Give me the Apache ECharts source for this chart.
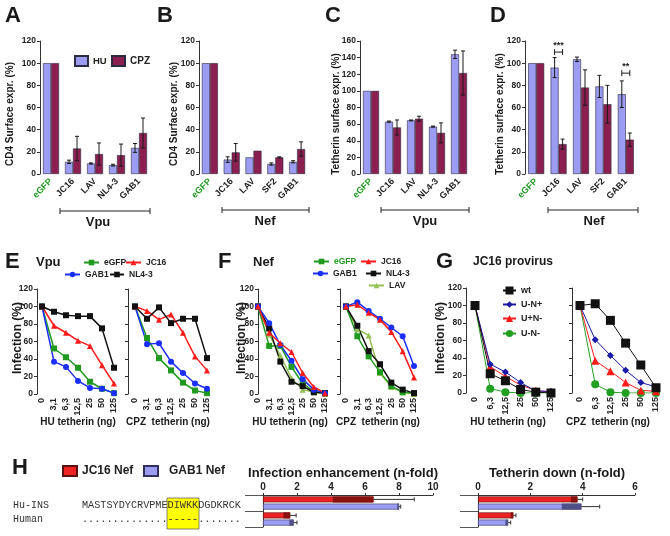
<!DOCTYPE html>
<html><head><meta charset="utf-8">
<script src="https://cdn.jsdelivr.net/npm/echarts@6/dist/echarts.min.js"></script>
<style>html,body{margin:0;padding:0;background:#fff}#c{width:670px;height:536px}</style>
</head><body><div id="c"></div>
<script>
// ---------- DATA ----------
const catsA = ['eGFP','JC16','LAV','NL4-3','GAB1'];
const catsB = ['eGFP','JC16','LAV','SF2','GAB1'];
const catsC = ['eGFP','JC16','LAV','NL4-3','GAB1'];
const catsD = ['eGFP','JC16','LAV','SF2','GAB1'];
const huA = [100,11,9.5,8,23.5],   huAerr = [0,1.5,0.5,0.8,4];
const cpzA = [100,23,18,17,37],    cpzAerr = [0,11,10,10,13.5];
const huB = [100,13,15,9,11],      huBerr = [0,2.5,0,1,1];
const cpzB = [100,19.5,21,15,22.5],cpzBerr = [0,8,0,0.5,6.5];
const huC = [100,63,64.5,57,144],  huCerr = [0,0.7,0.5,0.7,5];
const cpzC = [100,56,66.5,49.5,121.5], cpzCerr = [0,9,3,12,26.5];
const huD = [100,96,103.5,79,72],  huDerr = [0,9,2,10,12];
const cpzD = [100,27,78,63,31],    cpzDerr = [0,4.5,16,17,6];
const sigCats = [1,4], sigVals = [110,91], sigLabels = ['***','**'];

const doseEF = ['0','3,1','6,3','12,5','25','50','125'];
const doseG = ['0','6,3','12,5','25','50','125'];
// E (Vpu)
const E_hu_eGFP = [100,52,42,30,14,6,1];
const E_hu_JC16 = [100,78,70,61,55,33,12];
const E_hu_GAB1 = [100,37,31,15,7,6,1];
const E_hu_NL43 = [100,94,90,89,89,75,30];
const E_cpz_eGFP = [100,64,41,27,13,4,1];
const E_cpz_JC16 = [100,95,85,91,70,43,27];
const E_cpz_GAB1 = [100,57,58,37,24,12,6];
const E_cpz_NL43 = [100,86,99,81,86,86,41];
// F (Nef)
const F_hu_eGFP = [100,55,55,31,12,3,1];
const F_hu_JC16 = [100,70,58,48,24,8,1];
const F_hu_GAB1 = [100,81,56,38,17,5,1];
const F_hu_NL43 = [100,75,37,14,9,2,1];
const F_hu_LAV  = [100,68,44,18,5,2,0];
const F_cpz_eGFP = [100,66,43,25,9,2,1];
const F_cpz_JC16 = [100,102,93,85,71,49,19];
const F_cpz_GAB1 = [100,105,95,86,76,66,32];
const F_cpz_NL43 = [100,78,49,34,13,5,1];
const F_cpz_LAV  = [100,74,67,24,8,2,0];
// G (JC16 provirus)
const G_hu_wt  = [100,22,14,4,1,0];
const G_hu_UmNp = [100,33,24,12,2,2];
const G_hu_UpNm = [100,30,19,9,3,1];
const G_hu_UmNm = [100,5,1,0,0,0];
const G_cpz_wt  = [100,102,83,57,32,6];
const G_cpz_UmNp = [100,61,43,26,12,7];
const G_cpz_UpNm = [100,37,25,12,3,2];
const G_cpz_UmNm = [100,10,1,0,0,0];
// H
const hCats = ['Hu-INS','Human'];
const infJC = [6.5,1.6],  infJClow = [4.1,1.2],  infJChigh = [8.9,1.95];
const infGAB = [8.0,1.8], infGABlow = [7.9,1.55], infGABhigh = [8.1,2.0];
const tdJC = [3.8,1.35],  tdJClow = [3.55,1.25], tdJChigh = [4.0,1.45];
const tdGAB = [3.95,1.15],tdGABlow = [3.2,1.05], tdGABhigh = [4.65,1.25];
const seqHu = 'MASTSYDYCRVPMEDIWKKDGDKRCK';
const seqHuman = '..............-----.......';

// ---------- STYLE ----------
const FF = 'Liberation Sans, Arial, sans-serif';
const GREEN = '#1f9a1f', RED = '#ff1a1a', BLUE = '#1a2fff', BLACK = '#111111', LAVC = '#94c055';
const HUC = '#9c9cf2', CPZC = '#8b1f4f';

const grids = [
  {left:40, top:41, width:110, height:133},
  {left:199, top:41, width:109, height:133},
  {left:360, top:41, width:110, height:133},
  {left:525, top:41, width:112, height:133},
  {left:42, top:289, width:72, height:105},
  {left:135, top:289, width:72, height:105},
  {left:258, top:289, width:67, height:105},
  {left:346, top:289, width:68, height:105},
  {left:475, top:288, width:76, height:105},
  {left:580, top:288, width:76, height:105},
  {left:263, top:495, width:170, height:32},
  {left:478, top:495, width:157, height:32}
];

const lblStyle = {fontSize:8.5, fontWeight:'bold', color:'#222', fontFamily:FF};
function barX(gi, cats){
  return {type:'category', gridIndex:gi,
    data: cats.map(c => c==='eGFP' ? {value:c, textStyle:{color:GREEN}} : c),
    axisLine:{show:false}, axisTick:{show:false},
    axisLabel:Object.assign({}, lblStyle, {rotate:45, margin:6, interval:0, fontSize:9})};
}
function valY(gi, max, showLabel, offset){
  return {type:'value', gridIndex:gi, min:0, max:max, interval:20, offset:offset||0,
    axisLine:{show:true, lineStyle:{color:'#333', width:1}},
    axisTick:{show:true, length:3, lineStyle:{color:'#333'}},
    axisLabel:Object.assign({show:showLabel, margin:4}, lblStyle),
    splitLine:{show:false}};
}
function doseX(gi, data){
  return {type:'category', gridIndex:gi, boundaryGap:false, data:data,
    axisLine:{show:false}, axisTick:{show:false},
    axisLabel:Object.assign({}, lblStyle, {rotate:90, margin:4, interval:0, fontSize:9})};
}
function hX(gi, max){
  return {type:'value', gridIndex:gi, position:'top', min:0, max:max, interval:2,
    axisLine:{show:true, lineStyle:{color:'#333'}},
    axisTick:{show:true, length:2, lineStyle:{color:'#333'}},
    axisLabel:Object.assign({margin:3}, lblStyle, {fontSize:10}),
    splitLine:{show:false}};
}
function hY(gi){
  return {type:'category', gridIndex:gi, inverse:true, data:hCats,
    axisLine:{show:true, lineStyle:{color:'#333'}},
    axisTick:{show:true, length:18, lineStyle:{color:'#555'}},
    axisLabel:{show:false}};
}

function bar(name, gi, data, color){
  return {type:'bar', name:name, xAxisIndex:gi, yAxisIndex:gi, data:data, barWidth:8, barGap:'0%',
    itemStyle:{color:color, borderColor:'#2a2a40', borderWidth:0.6}};
}
function err(gi, vals, errs, off){
  return {type:'custom', xAxisIndex:gi, yAxisIndex:gi, silent:true, z:5,
    encode:{x:0, y:1},
    data: vals.map((v,i)=>[i, v, errs[i]]),
    renderItem:function(p, api){
      const i=api.value(0), v=api.value(1), e=api.value(2);
      if(!e) return null;
      const a=api.coord([i, v+e]), b=api.coord([i, Math.max(0, v-e)]);
      const x=a[0]+off, s={stroke:'#1a1a1a', lineWidth:1};
      return {type:'group', children:[
        {type:'line', shape:{x1:x,y1:a[1],x2:x,y2:b[1]}, style:s},
        {type:'line', shape:{x1:x-2,y1:a[1],x2:x+2,y2:a[1]}, style:s},
        {type:'line', shape:{x1:x-2,y1:b[1],x2:x+2,y2:b[1]}, style:s}
      ]};
    }};
}
function sig(gi){
  return {type:'custom', xAxisIndex:gi, yAxisIndex:gi, silent:true, z:6,
    encode:{x:0, y:1},
    data: sigCats.map((c,i)=>[c, sigVals[i]]),
    renderItem:function(p, api){
      const c=api.coord([api.value(0), api.value(1)]);
      const s={stroke:'#1a1a1a', lineWidth:1};
      return {type:'group', children:[
        {type:'line', shape:{x1:c[0]-4,y1:c[1],x2:c[0]+4,y2:c[1]}, style:s},
        {type:'line', shape:{x1:c[0]-4,y1:c[1]-3,x2:c[0]-4,y2:c[1]+3}, style:s},
        {type:'line', shape:{x1:c[0]+4,y1:c[1]-3,x2:c[0]+4,y2:c[1]+3}, style:s},
        {type:'text', x:c[0], y:c[1]-2, style:{text:sigLabels[p.dataIndex], textAlign:'center', textVerticalAlign:'bottom', font:'bold 9px '+FF, fill:'#222'}}
      ]};
    }};
}
function ln(name, gi, data, color, symbol, size, lw){
  return {type:'line', name:name, xAxisIndex:gi, yAxisIndex:gi, data:data, symbol:symbol, symbolSize:size,
    lineStyle:{color:color, width:lw}, itemStyle:{color:color}};
}
function hbar(name, gi, data, color, border){
  return {type:'bar', name:name, xAxisIndex:gi, yAxisIndex:gi, data:data, barWidth:6, barGap:'20%',
    itemStyle:{color:color, borderColor:border, borderWidth:0.6}};
}
function hOver(gi, vals, lows, highs, off, dark){
  return {type:'custom', xAxisIndex:gi, yAxisIndex:gi, silent:true, z:5,
    encode:{x:0, y:1},
    data: vals.map((v,i)=>[v, i, lows[i], highs[i]]),
    renderItem:function(p, api){
      const v=api.value(0), c=api.value(1), lo=api.value(2), hi=api.value(3);
      const pv=api.coord([v,c]), pl=api.coord([lo,c]), ph=api.coord([hi,c]);
      const y=pv[1]+off, s={stroke:'#333', lineWidth:1};
      return {type:'group', children:[
        {type:'rect', shape:{x:pl[0], y:y-3, width:pv[0]-pl[0], height:6}, style:{fill:dark}},
        {type:'line', shape:{x1:pv[0],y1:y,x2:ph[0],y2:y}, style:s},
        {type:'line', shape:{x1:ph[0],y1:y-2,x2:ph[0],y2:y+2}, style:s}
      ]};
    }};
}
function lg(name, left, top, w, h, fs, extra){
  const o = {data:[name], left:left, top:top, itemWidth:w, itemHeight:h, padding:0, itemGap:0,
    selectedMode:false, textStyle:{fontSize:fs, fontWeight:'bold', color:'#222', fontFamily:FF}};
  return Object.assign(o, extra||{});
}

const series = [
  bar('HU',0,huA,HUC), bar('CPZ',0,cpzA,CPZC), err(0,huA,huAerr,-4), err(0,cpzA,cpzAerr,4),
  bar('HU',1,huB,HUC), bar('CPZ',1,cpzB,CPZC), err(1,huB,huBerr,-4), err(1,cpzB,cpzBerr,4),
  bar('HU',2,huC,HUC), bar('CPZ',2,cpzC,CPZC), err(2,huC,huCerr,-4), err(2,cpzC,cpzCerr,4),
  bar('HU',3,huD,HUC), bar('CPZ',3,cpzD,CPZC), err(3,huD,huDerr,-4), err(3,cpzD,cpzDerr,4),
  sig(3),
  ln('eGFP',4,E_hu_eGFP,GREEN,'rect',6,1.5), ln('GAB1',4,E_hu_GAB1,BLUE,'circle',6,1.5),
  ln('JC16',4,E_hu_JC16,RED,'triangle',6,1.5), ln('NL4-3',4,E_hu_NL43,BLACK,'rect',6,1.5),
  ln('eGFP',5,E_cpz_eGFP,GREEN,'rect',6,1.5), ln('GAB1',5,E_cpz_GAB1,BLUE,'circle',6,1.5),
  ln('JC16',5,E_cpz_JC16,RED,'triangle',6,1.5), ln('NL4-3',5,E_cpz_NL43,BLACK,'rect',6,1.5),
  ln('LAV',6,F_hu_LAV,LAVC,'triangle',6,1.5), ln('eGFP',6,F_hu_eGFP,GREEN,'rect',6,1.5),
  ln('NL4-3',6,F_hu_NL43,BLACK,'rect',6,1.5), ln('GAB1',6,F_hu_GAB1,BLUE,'circle',6,1.5),
  ln('JC16',6,F_hu_JC16,RED,'triangle',6,1.5),
  ln('LAV',7,F_cpz_LAV,LAVC,'triangle',6,1.5), ln('eGFP',7,F_cpz_eGFP,GREEN,'rect',6,1.5),
  ln('NL4-3',7,F_cpz_NL43,BLACK,'rect',6,1.5), ln('GAB1',7,F_cpz_GAB1,BLUE,'circle',6,1.5),
  ln('JC16',7,F_cpz_JC16,RED,'triangle',6,1.5),
  ln('U-N-',8,G_hu_UmNm,'#22a022','circle',8,1), ln('U+N-',8,G_hu_UpNm,RED,'triangle',8,1),
  ln('U-N+',8,G_hu_UmNp,'#1a1aa8','diamond',7,1), ln('wt',8,G_hu_wt,BLACK,'rect',9,1),
  ln('U-N-',9,G_cpz_UmNm,'#22a022','circle',8,1), ln('U+N-',9,G_cpz_UpNm,RED,'triangle',8,1),
  ln('U-N+',9,G_cpz_UmNp,'#1a1aa8','diamond',7,1), ln('wt',9,G_cpz_wt,BLACK,'rect',9,1),
  hbar('JC16 Nef',10,infJC,'#ee2222','#5a1010'), hbar('GAB1 Nef',10,infGAB,HUC,'#30305a'),
  hOver(10,infJC,infJClow,infJChigh,-3.6,'#8a1010'), hOver(10,infGAB,infGABlow,infGABhigh,3.6,'#505088'),
  hbar('JC16 Nef',11,tdJC,'#ee2222','#5a1010'), hbar('GAB1 Nef',11,tdGAB,HUC,'#30305a'),
  hOver(11,tdJC,tdJClow,tdJChigh,-3.6,'#8a1010'), hOver(11,tdGAB,tdGABlow,tdGABhigh,3.6,'#505088')
];

const legends = [
  lg('HU',74,55,13,10,9.5,{icon:'rect'}), lg('CPZ',111,55,13,10,10,{icon:'rect'}),
  lg('eGFP',83,258,15,7,8.5), lg('JC16',125,258,15,7,8.5), lg('GAB1',64,270,15,7,8.5), lg('NL4-3',109,270,14,7,8.5),
  lg({name:'eGFP', textStyle:{color:GREEN}},313,257,15,7,8.5), lg('JC16',360,257,15,7,8.5),
  lg('GAB1',312,269,15,7,8.5), lg('NL4-3',365,269,15,7,8.5), lg('LAV',368,281,15,7,8.5),
  lg('wt',502,286,13,10,9), lg('U-N+',502,300,13,8,9), lg('U+N-',502,314,13,9,9), lg('U-N-',502,329,13,9,9),
  lg('JC16 Nef',62,465,14,10,12,{icon:'rect'}),
  lg('GAB1 Nef',143,465,14,10,12,{icon:'rect', textStyle:{fontSize:12,fontWeight:'bold',color:'#222',fontFamily:FF,padding:[0,0,0,6]}})
];

function T(text, x, y, size, opts){
  return Object.assign({type:'text', x:x, y:y, silent:true,
    style:{text:text, font:'bold '+size+'px '+FF, fill:'#1a1a1a', textAlign:'left', textVerticalAlign:'middle'}}, opts||{});
}
function TC(text, x, y, size){ const t=T(text,x,y,size); t.style.textAlign='center'; return t; }
function TR(text, x, y, size){ const t=T(text,x,y,size); t.style.textAlign='center'; t.rotation=Math.PI/2; return t; }
function bracket(x1, x2, y){
  const s={stroke:'#222', lineWidth:1};
  return [
    {type:'line', silent:true, shape:{x1:x1,y1:y,x2:x2,y2:y}, style:s},
    {type:'line', silent:true, shape:{x1:x1,y1:y-3,x2:x1,y2:y+3}, style:s},
    {type:'line', silent:true, shape:{x1:x2,y1:y-3,x2:x2,y2:y+3}, style:s}
  ];
}
const MONO = 'Liberation Mono, Courier New, monospace';
const graphics = [].concat(
  [T('A',5,16,22), T('B',157,16,22), T('C',325,16,22), T('D',490,16,22),
   T('E',5,262,22), T('F',218,262,22), T('G',436,262,22), T('H',12,468,22)],
  [TR('CD4 Surface expr. (%)',10,114,10), TR('CD4 Surface expr. (%)',174,114,10),
   TR('Tetherin surface expr. (%)',336,114,10), TR('Tetherin surface expr. (%)',500,114,10)],
  bracket(60,150,211), bracket(222,309,210), bracket(381,469,210), bracket(548,638,210),
  [TC('Vpu',98,222,13), TC('Nef',265,221,13), TC('Vpu',425,221,13), TC('Nef',594,221,13)],
  [T('Vpu',36,262,13), T('Nef',253,262,13), T('JC16 provirus',473,262,12)],
  [TR('Infection (%)',18,338,12), TR('Infection (%)',242,338,12), TR('Infection (%)',441,338,12)],
  [TC('HU tetherin (ng)',78,422,10), TC('CPZ  tetherin (ng)',168,422,10),
   TC('HU tetherin (ng)',290,422,10), TC('CPZ  tetherin (ng)',378,422,10),
   TC('HU tetherin (ng)',508,422,10), TC('CPZ  tetherin (ng)',608,422,10)],
  [TC('Infection enhancement (n-fold)',343,473,13), TC('Tetherin down (n-fold)',557,473,13)],
  [{type:'rect', silent:true, z:-1, shape:{x:167,y:498,width:32,height:31}, style:{fill:'#ffff00', stroke:'#666', lineWidth:0.8}},
   {type:'text', silent:true, x:13, y:505, style:{text:'Hu-INS', font:'10px '+MONO, fill:'#333', textVerticalAlign:'middle'}},
   {type:'text', silent:true, x:13, y:519, style:{text:'Human', font:'10px '+MONO, fill:'#333', textVerticalAlign:'middle'}},
   {type:'text', silent:true, x:82, y:505, style:{text:seqHu, font:'10.2px '+MONO, fill:'#333', textVerticalAlign:'middle'}},
   {type:'text', silent:true, x:82, y:519, style:{text:seqHuman, font:'10.2px '+MONO, fill:'#333', textVerticalAlign:'middle'}}]
);

const option = {
  animation:false,
  backgroundColor:'#fff',
  textStyle:{fontFamily:FF},
  grid:grids,
  xAxis:[barX(0,catsA), barX(1,catsB), barX(2,catsC), barX(3,catsD),
    doseX(4,doseEF), doseX(5,doseEF), doseX(6,doseEF), doseX(7,doseEF), doseX(8,doseG), doseX(9,doseG),
    hX(10,10), hX(11,6)],
  yAxis:[valY(0,120,true), valY(1,120,true), valY(2,160,true), valY(3,120,true),
    valY(4,120,true,5), valY(5,120,false,7), valY(6,120,true,0), valY(7,120,false,6),
    valY(8,120,true,9), valY(9,120,false,8), hY(10), hY(11)],
  legend:legends,
  series:series,
  graphic:graphics
};
const chart = echarts.init(document.getElementById('c'));
chart.setOption(option);
</script></body></html>
